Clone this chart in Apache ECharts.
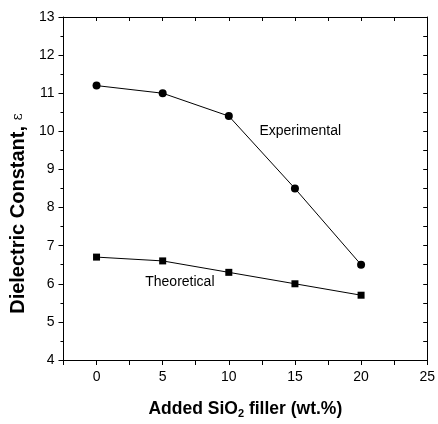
<!DOCTYPE html>
<html>
<head>
<meta charset="utf-8">
<script src="https://cdn.jsdelivr.net/npm/echarts@6/dist/echarts.min.js"></script>
<style>
  html, body { margin: 0; padding: 0; background: #fff; }
  #chart { width: 438px; height: 424px; }
</style>
</head>
<body>
<div id="chart"></div>
<script>
const filler = [0, 5, 10, 15, 20];
const experimental = [11.2, 11.0, 10.4, 8.5, 6.5];
const theoretical = [6.7, 6.6, 6.3, 6.0, 5.7];

const font = "Liberation Sans";
const chart = echarts.init(document.getElementById("chart"));

const axisLine = { onZero: false, lineStyle: { color: "#000", width: 1 } };

chart.setOption({
  animation: false,
  textStyle: { fontFamily: font },
  grid: { left: 62, right: 8, top: 17, bottom: 63 },
  xAxis: [
    {
      type: "value",
      min: -2.5,
      max: 25,
      interval: 2.5,
      axisLine: axisLine,
      splitLine: { show: false },
      axisTick: { length: 5, lineStyle: { color: "#000" } },
      axisLabel: {
        color: "#000",
        fontSize: 14,
        margin: 10,
        formatter: (v) => (v % 5 === 0 ? String(v) : ""),
      },
      name: "Added SiO{sub|2} filler (wt.%)",
      nameLocation: "middle",
      nameGap: 39,
      nameTextStyle: {
        color: "#000",
        fontSize: 17.5,
        fontWeight: "bold",
        rich: {
          sub: { fontSize: 11, fontWeight: "bold", verticalAlign: "bottom", padding: [9, 0, 0, 0] },
        },
      },
    },
    {
      type: "value",
      position: "top",
      min: -2.5,
      max: 25,
      interval: 2.5,
      axisLine: axisLine,
      splitLine: { show: false },
      axisTick: { inside: true, length: 4, lineStyle: { color: "#000" } },
      axisLabel: { show: false },
    },
  ],
  yAxis: [
    {
      type: "value",
      min: 4,
      max: 13,
      interval: 1,
      axisLine: axisLine,
      splitLine: { show: false },
      axisTick: { length: 5, lineStyle: { color: "#000" } },
      minorTick: { show: true, splitNumber: 2, length: 3, lineStyle: { color: "#000" } },
      axisLabel: { color: "#000", fontSize: 14, margin: 9 },
      name: "Dielectric Constant, {eps|ε}",
      nameLocation: "middle",
      nameGap: 32,
      nameTextStyle: {
        color: "#000",
        fontSize: 20,
        fontWeight: "bold",
        padding: [0, 50, 0, 0],
        rich: {
          eps: { fontSize: 14, fontWeight: "normal", fontFamily: "DejaVu Serif" },
        },
      },
    },
    {
      type: "value",
      position: "right",
      min: 4,
      max: 13,
      interval: 0.5,
      axisLine: axisLine,
      splitLine: { show: false },
      axisTick: { inside: true, length: 4, lineStyle: { color: "#000" } },
      axisLabel: { show: false },
    },
  ],
  series: [
    {
      name: "Experimental",
      type: "line",
      data: filler.map((x, i) => [x, experimental[i]]),
      symbol: "circle",
      symbolSize: 8,
      itemStyle: { color: "#000" },
      lineStyle: { color: "#000", width: 1 },
      markPoint: {
        symbol: "circle",
        symbolSize: 0,
        label: { show: true, position: "inside", color: "#000", fontSize: 14, formatter: "Experimental" },
        data: [{ coord: [15.4, 10.0] }],
      },
    },
    {
      name: "Theoretical",
      type: "line",
      data: filler.map((x, i) => [x, theoretical[i]]),
      symbol: "rect",
      symbolSize: 7,
      itemStyle: { color: "#000" },
      lineStyle: { color: "#000", width: 1 },
      markPoint: {
        symbol: "circle",
        symbolSize: 0,
        label: { show: true, position: "inside", color: "#000", fontSize: 14, formatter: "Theoretical" },
        data: [{ coord: [6.3, 6.05] }],
      },
    },
  ],
});
</script>
</body>
</html>
